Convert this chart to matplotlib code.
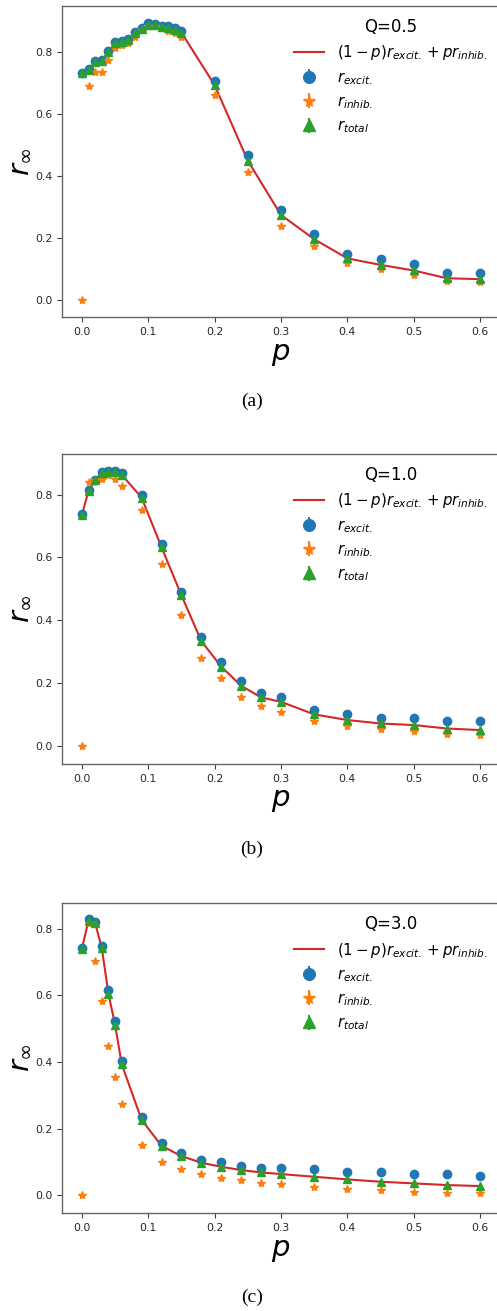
import matplotlib
matplotlib.use("Agg")
import matplotlib.pyplot as plt
import numpy as np

# p values for each panel
p_a = [0.0, 0.01, 0.02, 0.03, 0.04, 0.05, 0.06, 0.07, 0.08, 0.09, 0.10, 0.11, 0.12,
       0.13, 0.14, 0.15, 0.2, 0.25, 0.3, 0.35, 0.4, 0.45, 0.5, 0.55, 0.6]
p_bc = [0.0, 0.01, 0.02, 0.03, 0.04, 0.05, 0.06, 0.09, 0.12, 0.15, 0.18, 0.21, 0.24,
        0.27, 0.3, 0.35, 0.4, 0.45, 0.5, 0.55, 0.6]

# Q = 0.5
excit_a = [0.733, 0.744, 0.771, 0.774, 0.803, 0.831, 0.834, 0.841, 0.863, 0.876, 0.892, 0.890,
           0.884, 0.882, 0.878, 0.868, 0.707, 0.466, 0.289, 0.212, 0.148, 0.131, 0.115, 0.088, 0.088]
inhib_a = [0.0, 0.691, 0.736, 0.736, 0.774, 0.812, 0.823, 0.828, 0.849, 0.870, 0.882, 0.882,
           0.876, 0.866, 0.860, 0.847, 0.661, 0.414, 0.240, 0.175, 0.118, 0.099, 0.081, 0.061, 0.059]
total_a = [0.732, 0.742, 0.768, 0.772, 0.800, 0.828, 0.831, 0.838, 0.860, 0.873, 0.888, 0.887,
           0.880, 0.877, 0.872, 0.862, 0.693, 0.449, 0.274, 0.196, 0.134, 0.113, 0.095, 0.070, 0.067]

# Q = 1.0
excit_b = [0.737, 0.814, 0.846, 0.872, 0.876, 0.874, 0.867, 0.798, 0.642, 0.490, 0.347, 0.266,
           0.206, 0.167, 0.154, 0.114, 0.100, 0.087, 0.087, 0.080, 0.080]
inhib_b = [0.0, 0.839, 0.845, 0.848, 0.862, 0.848, 0.828, 0.751, 0.579, 0.417, 0.278, 0.215,
           0.156, 0.127, 0.108, 0.080, 0.064, 0.053, 0.047, 0.037, 0.034]
total_b = [0.735, 0.812, 0.845, 0.870, 0.873, 0.872, 0.863, 0.790, 0.632, 0.479, 0.333, 0.252,
           0.191, 0.154, 0.140, 0.100, 0.082, 0.071, 0.066, 0.055, 0.050]

# Q = 3.0
excit_c = [0.744, 0.830, 0.822, 0.749, 0.617, 0.524, 0.404, 0.235, 0.157, 0.125, 0.105, 0.098,
           0.088, 0.082, 0.080, 0.077, 0.069, 0.069, 0.063, 0.063, 0.058]
inhib_c = [0.0, 0.819, 0.705, 0.583, 0.448, 0.355, 0.273, 0.150, 0.100, 0.077, 0.063, 0.052,
           0.045, 0.037, 0.032, 0.025, 0.017, 0.015, 0.010, 0.007, 0.007]
total_c = [0.741, 0.825, 0.818, 0.742, 0.605, 0.512, 0.393, 0.226, 0.148, 0.117, 0.097, 0.085,
           0.075, 0.068, 0.063, 0.055, 0.047, 0.040, 0.035, 0.030, 0.027]

panels = [
    ("Q=0.5", "(a)", p_a, excit_a, inhib_a, total_a, (-0.055, 0.948)),
    ("Q=1.0", "(b)", p_bc, excit_b, inhib_b, total_b, (-0.058, 0.929)),
    ("Q=3.0", "(c)", p_bc, excit_c, inhib_c, total_c, (-0.054, 0.878)),
]

W, H = 497, 1311
fig = plt.figure(figsize=(W / 100, H / 100), dpi=100)

# axes boxes in pixels: (top, bottom)
boxes = [(6, 317), (454, 764), (903, 1213)]
caption_y = [401, 849, 1297]
left_px, right_px = 62, 500

for (q, tag, p, excit, inhib, total, ylim), (top, bot), cy in zip(panels, boxes, caption_y):
    ax = fig.add_axes([left_px / W, 1 - bot / H, (right_px - left_px) / W, (bot - top) / H])
    zeros = np.zeros(len(p))
    ax.plot(p, total, color="tab:red", lw=1.5, label=r"$(1-p)r_{excit.}+pr_{inhib.}$", zorder=1)
    ax.errorbar(p, excit, yerr=zeros, fmt="o", color="tab:blue", ms=6, label=r"$r_{excit.}$", zorder=2)
    ax.errorbar(p, inhib, yerr=zeros, fmt="*", color="tab:orange", ms=6, label=r"$r_{inhib.}$", zorder=3)
    ax.errorbar(p, total, yerr=zeros, fmt="^", color="tab:green", ms=6, label=r"$r_{total}$", zorder=4)

    ax.set_xlim(-0.03, 0.63)
    ax.set_ylim(*ylim)
    ax.set_xticks([0.0, 0.1, 0.2, 0.3, 0.4, 0.5, 0.6])
    ax.set_yticks([0.0, 0.2, 0.4, 0.6, 0.8])
    ax.tick_params(labelsize=7.8, length=3.5, color="0.25", labelcolor="0.15")
    for s in ax.spines.values():
        s.set_color("0.4")
        s.set_linewidth(1.0)

    ax.set_xlabel(r"$p$", fontsize=21, labelpad=2)
    ax.set_ylabel(r"$r_\infty$", fontsize=21, labelpad=1)

    leg = ax.legend(title=q, loc="upper right", frameon=False, fontsize=10.8,
                    title_fontsize=12, markerscale=1.4, borderaxespad=0.4,
                    handletextpad=0.9, labelspacing=0.5)

    fig.text(0.507, 1 - cy / H, tag, ha="center", va="center",
             family="Liberation Serif", fontsize=14)

fig.savefig("out.png", dpi=100)
